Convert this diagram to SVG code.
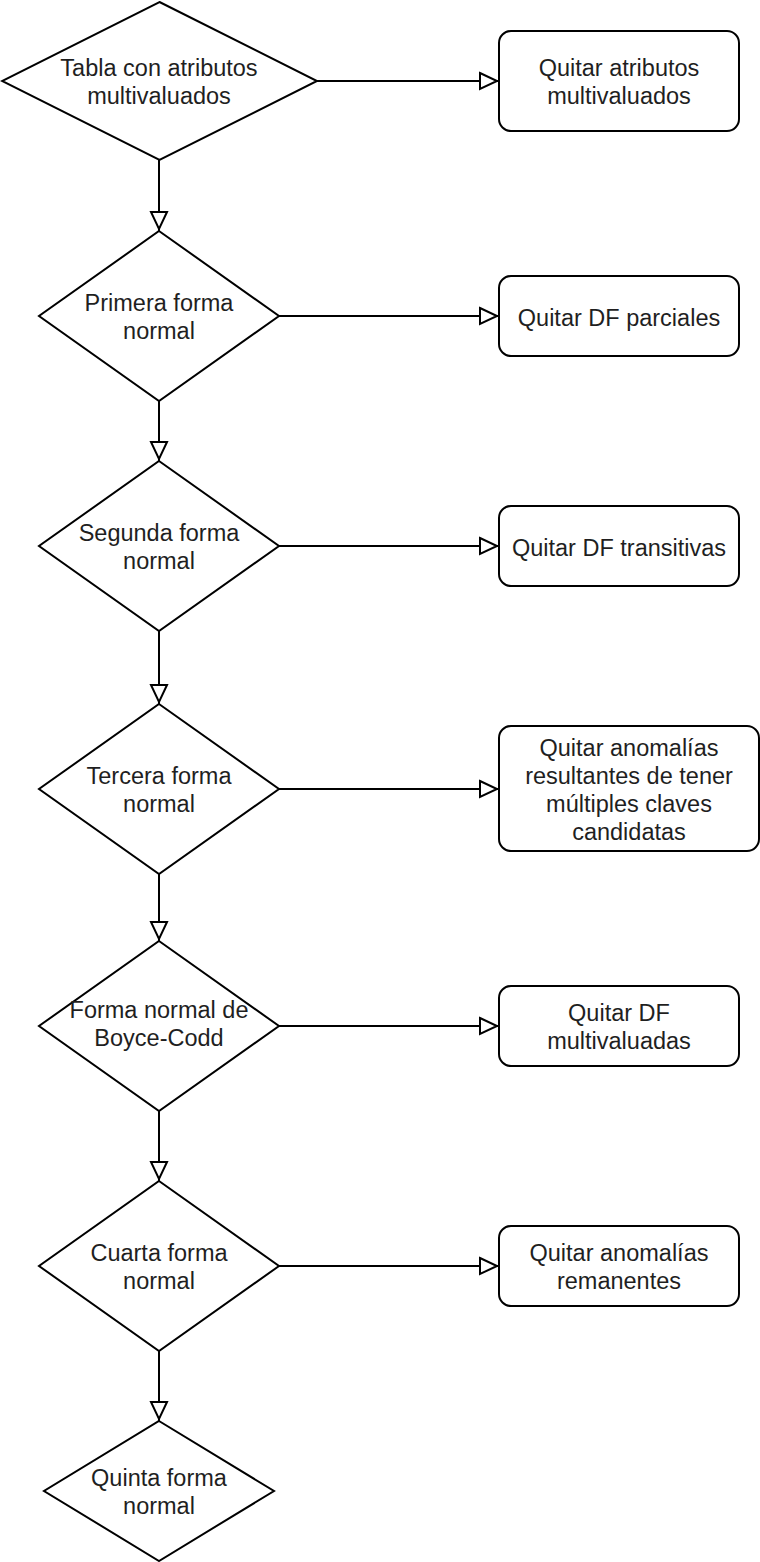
<svg xmlns="http://www.w3.org/2000/svg" width="760" height="1562" viewBox="0 0 760 1562">
<style>
.shape{fill:#ffffff;stroke:#000000;stroke-width:2;}
.edge{fill:none;stroke:#000000;stroke-width:2;}
text{font-family:"Liberation Sans",Arial,Helvetica,sans-serif;font-size:23.5px;fill:#1f1f1f;text-anchor:middle;}
</style>
<defs>
<marker id="arrow" markerUnits="userSpaceOnUse" markerWidth="26" markerHeight="24" refX="21" refY="10" orient="auto" overflow="visible">
<path d="M2,2 L19,10 L2,18 Z" fill="#ffffff" stroke="#000000" stroke-width="2" stroke-linejoin="miter"/>
</marker>
</defs>
<rect x="0" y="0" width="760" height="1562" fill="#ffffff"/>
<g id="connectors">
<line class="edge" x1="317" y1="81" x2="499" y2="81" marker-end="url(#arrow)"/>
<line class="edge" x1="279" y1="316" x2="499" y2="316" marker-end="url(#arrow)"/>
<line class="edge" x1="279" y1="546" x2="499" y2="546" marker-end="url(#arrow)"/>
<line class="edge" x1="279" y1="789" x2="499" y2="789" marker-end="url(#arrow)"/>
<line class="edge" x1="279" y1="1026" x2="499" y2="1026" marker-end="url(#arrow)"/>
<line class="edge" x1="279" y1="1266" x2="499" y2="1266" marker-end="url(#arrow)"/>
<line class="edge" x1="159" y1="160" x2="159" y2="231" marker-end="url(#arrow)"/>
<line class="edge" x1="159" y1="401" x2="159" y2="461" marker-end="url(#arrow)"/>
<line class="edge" x1="159" y1="631" x2="159" y2="704" marker-end="url(#arrow)"/>
<line class="edge" x1="159" y1="874" x2="159" y2="941" marker-end="url(#arrow)"/>
<line class="edge" x1="159" y1="1111" x2="159" y2="1181" marker-end="url(#arrow)"/>
<line class="edge" x1="159" y1="1351" x2="159" y2="1421" marker-end="url(#arrow)"/>
</g>
<g id="d1">
<polygon class="shape" points="159.5,2 317,81 159.5,160 2,81"/>
<text x="159" y="76">Tabla con atributos</text>
<text x="159" y="104">multivaluados</text>
</g>
<g id="r1">
<rect class="shape" x="499" y="31" width="240" height="100" rx="12" ry="12"/>
<text x="619" y="76">Quitar atributos</text>
<text x="619" y="104">multivaluados</text>
</g>
<g id="d2">
<polygon class="shape" points="159,231 279,316 159,401 39,316"/>
<text x="159" y="311">Primera forma</text>
<text x="159" y="339">normal</text>
</g>
<g id="r2">
<rect class="shape" x="499" y="276" width="240" height="80" rx="12" ry="12"/>
<text x="619" y="325.5">Quitar DF parciales</text>
</g>
<g id="d3">
<polygon class="shape" points="159,461 279,546 159,631 39,546"/>
<text x="159" y="541">Segunda forma</text>
<text x="159" y="569">normal</text>
</g>
<g id="r3">
<rect class="shape" x="499" y="506" width="240" height="80" rx="12" ry="12"/>
<text x="619" y="555.5">Quitar DF transitivas</text>
</g>
<g id="d4">
<polygon class="shape" points="159,704 279,789 159,874 39,789"/>
<text x="159" y="784">Tercera forma</text>
<text x="159" y="812">normal</text>
</g>
<g id="r4">
<rect class="shape" x="499" y="726" width="260" height="125" rx="12" ry="12"/>
<text x="629" y="755.5">Quitar anomalías</text>
<text x="629" y="783.5">resultantes de tener</text>
<text x="629" y="811.5">múltiples claves</text>
<text x="629" y="839.5">candidatas</text>
</g>
<g id="d5">
<polygon class="shape" points="159,941 279,1026 159,1111 39,1026"/>
<text x="159" y="1018">Forma normal de</text>
<text x="159" y="1046">Boyce-Codd</text>
</g>
<g id="r5">
<rect class="shape" x="499" y="986" width="240" height="80" rx="12" ry="12"/>
<text x="619" y="1021">Quitar DF</text>
<text x="619" y="1049">multivaluadas</text>
</g>
<g id="d6">
<polygon class="shape" points="159,1181 279,1266 159,1351 39,1266"/>
<text x="159" y="1261">Cuarta forma</text>
<text x="159" y="1289">normal</text>
</g>
<g id="r6">
<rect class="shape" x="499" y="1226" width="240" height="80" rx="12" ry="12"/>
<text x="619" y="1261">Quitar anomalías</text>
<text x="619" y="1289">remanentes</text>
</g>
<g id="d7">
<polygon class="shape" points="159,1421 274,1491 159,1561 44,1491"/>
<text x="159" y="1486">Quinta forma</text>
<text x="159" y="1514">normal</text>
</g>
</svg>
